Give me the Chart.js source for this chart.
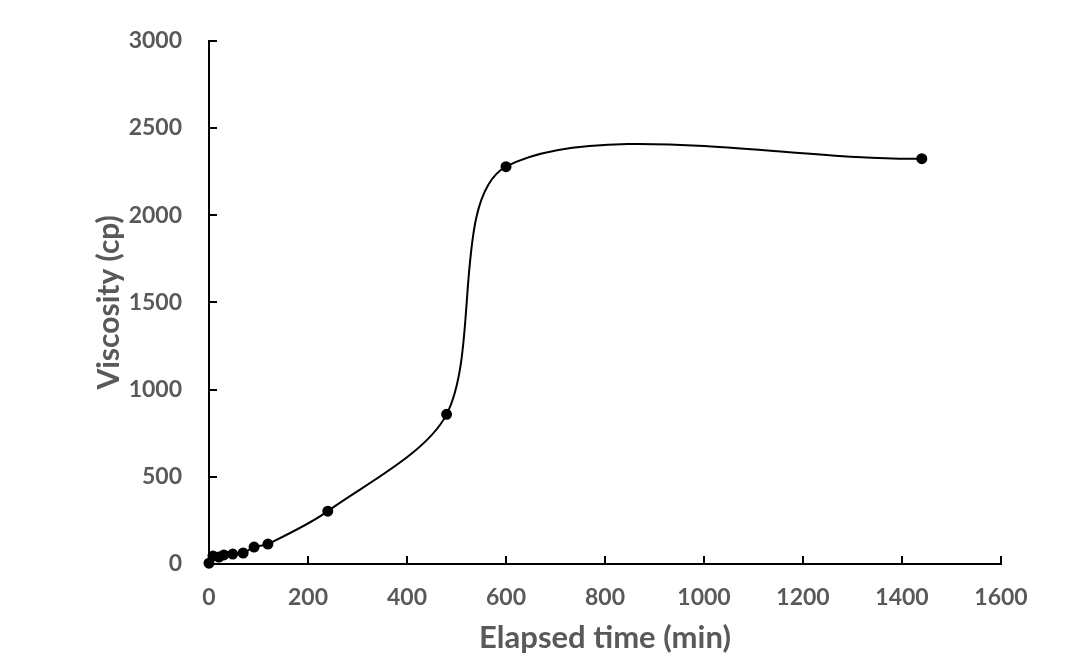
<!DOCTYPE html>
<html>
<head>
<meta charset="utf-8">
<script src="https://cdn.jsdelivr.net/npm/chart.js@4"></script>
<style>
  html, body { margin: 0; padding: 0; background: #fff; }
  #wrap { width: 1078px; height: 666px; }
</style>
</head>
<body>
<div id="wrap"><canvas id="viscChart" width="1078" height="666"></canvas></div>
<script>
// elapsed time (min) and viscosity (cp)
const timeMin = [0, 8, 20, 30, 48, 69, 91, 119, 240, 480, 600, 1440];
const viscosity = [5, 46, 40, 52, 57, 63, 97, 114, 303, 858, 2278, 2324];
const xTicks = [0, 200, 400, 600, 800, 1000, 1200, 1400, 1600];
const yTicks = [0, 500, 1000, 1500, 2000, 2500, 3000];

const labelFont = "Lato";
const grey = "#595959";

// tick marks pointing into the plot, like the original
const innerTicks = {
    id: "innerTicks",
    afterDraw(chart) {
        const ctx = chart.ctx;
        const xs = chart.scales.x, ys = chart.scales.y;
        ctx.save();
        ctx.strokeStyle = "#000";
        ctx.lineWidth = 2;
        ctx.beginPath();
        xTicks.forEach(v => {
            const px = Math.round(xs.getPixelForValue(v));
            ctx.moveTo(px, ys.bottom);
            ctx.lineTo(px, ys.bottom - 8);
        });
        yTicks.forEach(v => {
            const py = Math.round(ys.getPixelForValue(v));
            ctx.moveTo(xs.left, py);
            ctx.lineTo(xs.left + 8, py);
        });
        ctx.stroke();
        ctx.restore();
    }
};

const points = timeMin.map((t, i) => ({ x: t, y: viscosity[i] }));

new Chart(document.getElementById("viscChart").getContext("2d"), {
    type: "scatter",
    data: {
        datasets: [{
            data: points,
            showLine: true,
            tension: 0.3,
            borderColor: "#000",
            borderWidth: 2,
            backgroundColor: "#000",
            pointRadius: 4.5,
            pointHoverRadius: 4.5,
            clip: false
        }]
    },
    options: {
        responsive: false,
        animation: false,
        layout: { padding: { left: 0, right: 77, top: 40, bottom: 0 } },
        plugins: { legend: { display: false }, tooltip: { enabled: false } },
        scales: {
            x: {
                type: "linear",
                min: 0,
                max: 1600,
                afterBuildTicks: s => { s.ticks = xTicks.map(v => ({ value: v })); },
                afterFit: s => { s.height = 102; },
                grid: { display: true, drawOnChartArea: false, drawTicks: false },
                border: { color: "#000", width: 2 },
                ticks: {
                    color: grey,
                    padding: 20,
                    font: { family: labelFont, size: 23, weight: "bold" },
                    callback: v => String(v)
                },
                title: {
                    display: true,
                    text: "Elapsed time (min)",
                    color: grey,
                    padding: { top: 0, bottom: 9 },
                    font: { family: labelFont, size: 31, weight: "bold" }
                }
            },
            y: {
                type: "linear",
                min: 0,
                max: 3000,
                afterBuildTicks: s => { s.ticks = yTicks.map(v => ({ value: v })); },
                afterFit: s => { s.width = 209; },
                grid: { display: true, drawOnChartArea: false, drawTicks: false },
                border: { color: "#000", width: 2 },
                ticks: {
                    color: grey,
                    padding: 27,
                    font: { family: labelFont, size: 23, weight: "bold" },
                    callback: v => String(v)
                },
                title: {
                    display: true,
                    text: "Viscosity (cp)",
                    color: grey,
                    padding: { top: 91, bottom: 0 },
                    font: { family: labelFont, size: 30, weight: "bold" }
                }
            }
        }
    },
    plugins: [innerTicks]
});
</script>
</body>
</html>
